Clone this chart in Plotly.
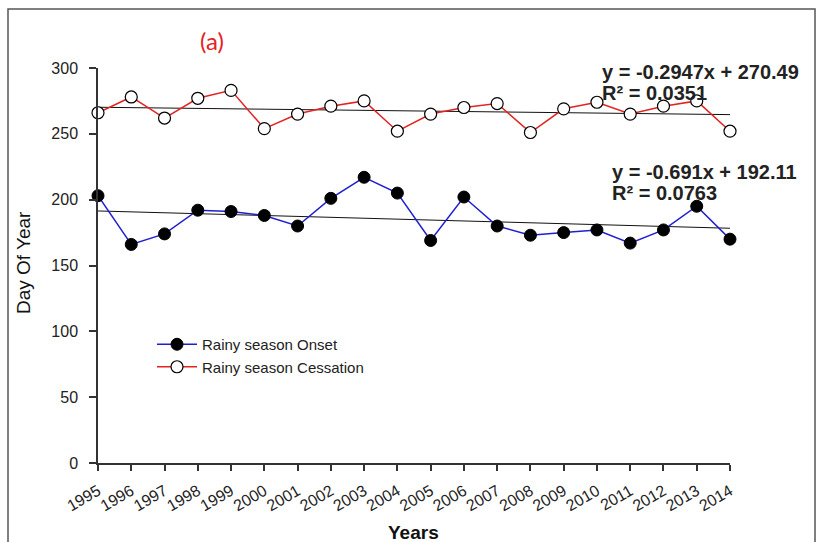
import plotly.graph_objects as go

# Rainy season dates (day of year), 1995-2014
years = list(range(1995, 2015))
onset = [203, 166, 174, 192, 191, 188, 180, 201, 217, 205,
         169, 202, 180, 173, 175, 177, 167, 177, 195, 170]
cessation = [266, 278, 262, 277, 283, 254, 265, 271, 275, 252,
             265, 270, 273, 251, 269, 274, 265, 271, 275, 252]

# Linear trend coefficients (x = year index starting at 1)
onset_slope, onset_icpt, onset_r2 = -0.691, 192.11, 0.0763
cess_slope, cess_icpt, cess_r2 = -0.2947, 270.49, 0.0351

y_ticks = [0, 50, 100, 150, 200, 250, 300]

idx = list(range(1, len(years) + 1))
onset_trend = [onset_slope * i + onset_icpt for i in idx]
cess_trend = [cess_slope * i + cess_icpt for i in idx]

W, H = 817, 542
L, R, T, B = 98, 87, 68, 79
pw, ph = W - L - R, H - T - B

def px_x(p):
    return (p - L) / pw

def px_y(p):
    return (H - B - p) / ph

BLUE = "#1f1fd0"
RED = "#e32222"
DARK = "#333333"

fig = go.Figure()

fig.add_trace(go.Scatter(x=years, y=cess_trend, mode="lines",
                         line=dict(color="#111111", width=1),
                         showlegend=False, hoverinfo="skip", cliponaxis=False))
fig.add_trace(go.Scatter(x=years, y=onset_trend, mode="lines",
                         line=dict(color="#111111", width=1),
                         showlegend=False, hoverinfo="skip", cliponaxis=False))

fig.add_trace(go.Scatter(x=years, y=onset, mode="lines+markers",
                         name="Rainy season Onset",
                         line=dict(color=BLUE, width=1.5),
                         marker=dict(symbol="circle", size=12, color="black",
                                     line=dict(color="black", width=1)),
                         cliponaxis=False))
fig.add_trace(go.Scatter(x=years, y=cessation, mode="lines+markers",
                         name="Rainy season Cessation",
                         line=dict(color=RED, width=1.5),
                         marker=dict(symbol="circle", size=12, color="white",
                                     line=dict(color="black", width=1.2)),
                         cliponaxis=False))

eq_font = dict(family="Liberation Sans, Arial", size=20, color="#222222")

def note(text, x, y, font, xanchor="left", angle=0):
    return dict(text=text, x=px_x(x), y=px_y(y), xref="paper", yref="paper",
                xanchor=xanchor, yanchor="middle", showarrow=False,
                font=font, textangle=angle)

annotations = [
    note("(a)", 212, 40, dict(family="Lato, Open Sans", size=24, color=RED),
         xanchor="center"),
    note(f"<b>y = {cess_slope}x + {cess_icpt}</b>", 600, 72, eq_font),
    note(f"<b>R² = {cess_r2:.4f}</b>", 600, 93, eq_font),
    note(f"<b>y = {onset_slope}x + {onset_icpt}</b>", 610, 172, eq_font),
    note(f"<b>R² = {onset_r2:.4f}</b>", 610, 193, eq_font),
    note("<b>Years</b>", 413, 532, dict(size=19, color="#111111"), xanchor="center"),
    note("Day Of Year", 23, 263, dict(size=19, color="#111111"),
         xanchor="center", angle=-90),
]

fig.update_layout(
    width=W, height=H,
    margin=dict(l=L, r=R, t=T, b=B, pad=0),
    paper_bgcolor="white", plot_bgcolor="white",
    font=dict(family="Liberation Sans, Arial", size=15, color=DARK),
    annotations=annotations,
    legend=dict(x=px_x(152), y=px_y(328), xanchor="left", yanchor="top",
                bgcolor="rgba(0,0,0,0)", font=dict(size=15, color="#222222"),
                tracegroupgap=0, itemwidth=40),
    shapes=[dict(type="rect", xref="paper", yref="paper",
                 x0=px_x(8), x1=px_x(815), y0=px_y(600), y1=px_y(9),
                 line=dict(color="#555555", width=1.5))],
    xaxis=dict(range=[1995, 2014], tickmode="array", tickvals=years,
               ticktext=[str(y) for y in years], tickangle=-30,
               tickfont=dict(size=16, color="#222222"),
               ticks="outside", ticklen=6, tickwidth=1.5, tickcolor=DARK,
               ticklabelstandoff=5,
               showline=True, linecolor=DARK, linewidth=1.5,
               showgrid=False, zeroline=False, automargin=False),
    yaxis=dict(range=[0, 300], tickmode="array", tickvals=y_ticks,
               tickfont=dict(size=16, color="#222222"),
               ticks="outside", ticklen=7, tickwidth=1.5, tickcolor=DARK,
               ticklabelstandoff=8,
               showline=True, linecolor=DARK, linewidth=1.5,
               showgrid=False, zeroline=False, automargin=False),
)

fig.write_html("out.html")
